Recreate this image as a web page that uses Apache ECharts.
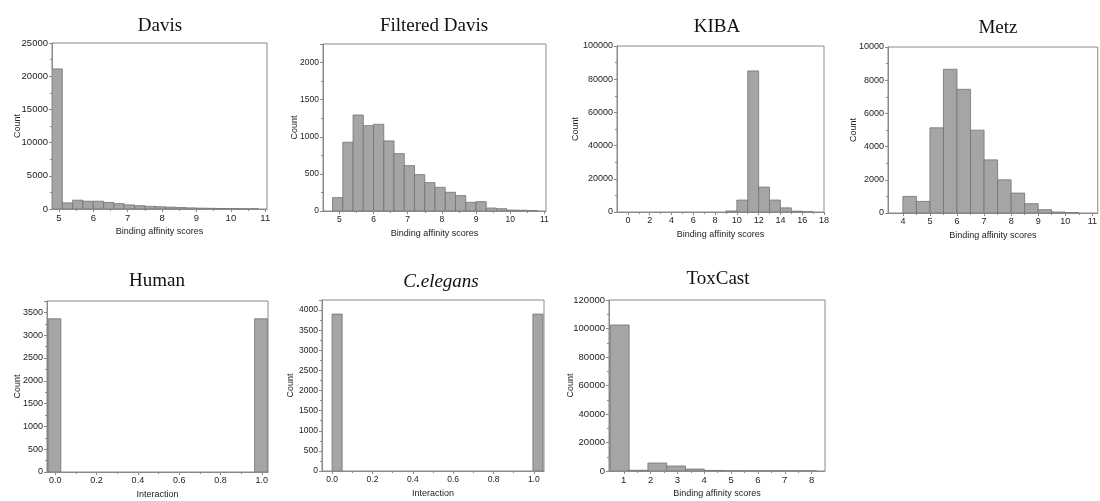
<!DOCTYPE html>
<html><head><meta charset="utf-8">
<script src="https://cdn.jsdelivr.net/npm/echarts@6/dist/echarts.min.js"></script>
<style>html,body{margin:0;padding:0;background:#fff}#c{width:1100px;height:501px}</style>
</head><body><div id="c"></div>
<script>
// ---------- DATA ----------
const titles = ['Davis', 'Filtered Davis', 'KIBA', 'Metz', 'Human', 'C.elegans', 'ToxCast'];
const xAxisNames = ['Binding affinity scores', 'Binding affinity scores', 'Binding affinity scores', 'Binding affinity scores', 'Interaction', 'Interaction', 'Binding affinity scores'];

// Davis
const davisBinStarts = [4.8, 5.1, 5.4, 5.7, 6.0, 6.3, 6.6, 6.9, 7.2, 7.5, 7.8, 8.1, 8.4, 8.7, 9.0, 9.3, 9.6, 9.9, 10.2, 10.5];
const davisCounts = [21100, 920, 1330, 1170, 1170, 980, 810, 620, 500, 400, 340, 280, 220, 170, 130, 100, 70, 50, 30, 20];
const davisBinWidth = 0.3;
const davisXTicks = [5, 6, 7, 8, 9, 10, 11];
const davisYTicks = [0, 5000, 10000, 15000, 20000, 25000];

// Filtered Davis
const fdavisBinStarts = [4.8, 5.1, 5.4, 5.7, 6.0, 6.3, 6.6, 6.9, 7.2, 7.5, 7.8, 8.1, 8.4, 8.7, 9.0, 9.3, 9.6, 9.9, 10.2, 10.5];
const fdavisCounts = [180, 926, 1294, 1150, 1168, 944, 773, 611, 490, 382, 319, 252, 207, 117, 126, 40, 31, 12, 10, 4];
const fdavisBinWidth = 0.3;
const fdavisXTicks = [5, 6, 7, 8, 9, 10, 11];
const fdavisYTicks = [0, 500, 1000, 1500, 2000];

// KIBA
const kibaBinStarts = [9, 10, 11, 12, 13, 14, 15, 16];
const kibaCounts = [600, 7200, 85000, 15000, 7200, 2500, 500, 100];
const kibaBinWidth = 1;
const kibaXTicks = [0, 2, 4, 6, 8, 10, 12, 14, 16, 18];
const kibaYTicks = [0, 20000, 40000, 60000, 80000, 100000];

// Metz
const metzBinStarts = [4.0, 4.5, 5.0, 5.5, 6.0, 6.5, 7.0, 7.5, 8.0, 8.5, 9.0, 9.5, 10.0];
const metzCounts = [1000, 700, 5130, 8660, 7450, 4990, 3200, 2000, 1200, 560, 200, 60, 20];
const metzBinWidth = 0.5;
const metzXTicks = [4, 5, 6, 7, 8, 9, 10, 11];
const metzYTicks = [0, 2000, 4000, 6000, 8000, 10000];

// Human
const humanBinStarts = [-0.035, 0.965];
const humanCounts = [3360, 3360];
const humanBinWidth = 0.062;
const humanXTicks = [0.0, 0.2, 0.4, 0.6, 0.8, 1.0];
const humanYTicks = [0, 500, 1000, 1500, 2000, 2500, 3000, 3500];

// C.elegans
const celegansBinStarts = [0.0, 0.995];
const celegansCounts = [3900, 3900];
const celegansBinWidth = 0.05;
const celegansXTicks = [0.0, 0.2, 0.4, 0.6, 0.8, 1.0];
const celegansYTicks = [0, 500, 1000, 1500, 2000, 2500, 3000, 3500, 4000];

// ToxCast
const toxBinStarts = [0.5, 1.2, 1.9, 2.6, 3.3, 4.0, 4.7, 5.4, 6.1, 6.8, 7.5];
const toxCounts = [102500, 500, 5600, 3500, 1400, 400, 100, 50, 30, 20, 10];
const toxBinWidth = 0.7;
const toxXTicks = [1, 2, 3, 4, 5, 6, 7, 8];
const toxYTicks = [0, 20000, 40000, 60000, 80000, 100000, 120000];

// ---------- LAYOUT ----------
const panels = [
  {starts: davisBinStarts, counts: davisCounts, w: davisBinWidth, xt: davisXTicks, yt: davisYTicks,
   grid: {left: 52, top: 43, width: 215, height: 166}, xMin: 4.8, xMax: 11.05, yMax: 25000, title: [160, 17], dec: 0, yGap: 30, fs: 9.5},
  {starts: fdavisBinStarts, counts: fdavisCounts, w: fdavisBinWidth, xt: fdavisXTicks, yt: fdavisYTicks,
   grid: {left: 323, top: 44, width: 223, height: 167}, xMin: 4.52, xMax: 11.05, yMax: 2250, title: [434, 17], dec: 0, yGap: 24, fs: 8.5},
  {starts: kibaBinStarts, counts: kibaCounts, w: kibaBinWidth, xt: kibaXTicks, yt: kibaYTicks,
   grid: {left: 617, top: 46, width: 207, height: 166}, xMin: -1, xMax: 18, yMax: 100000, title: [717, 18], dec: 0, yGap: 36.5, fs: 9},
  {starts: metzBinStarts, counts: metzCounts, w: metzBinWidth, xt: metzXTicks, yt: metzYTicks,
   grid: {left: 888, top: 47, width: 210, height: 166}, xMin: 3.45, xMax: 11.2, yMax: 10000, title: [998, 19], dec: 0, yGap: 29.5, fs: 9},
  {starts: humanBinStarts, counts: humanCounts, w: humanBinWidth, xt: humanXTicks, yt: humanYTicks,
   grid: {left: 47, top: 301, width: 221, height: 171}, xMin: -0.04, xMax: 1.03, yMax: 3750, title: [157, 272], dec: 1, yGap: 25, fs: 9},
  {starts: celegansBinStarts, counts: celegansCounts, w: celegansBinWidth, xt: celegansXTicks, yt: celegansYTicks,
   grid: {left: 322, top: 300, width: 222, height: 171}, xMin: -0.05, xMax: 1.05, yMax: 4250, title: [441, 272], dec: 1, italic: true, yGap: 27, fs: 8.5},
  {starts: toxBinStarts, counts: toxCounts, w: toxBinWidth, xt: toxXTicks, yt: toxYTicks,
   grid: {left: 609, top: 300, width: 216, height: 171}, xMin: 0.45, xMax: 8.5, yMax: 120000, title: [718, 270], dec: 0, yGap: 34, fs: 9.5}
];

const AXIS_COLOR = '#8a8a8a';
const LABEL_COLOR = '#222';
const SANS = '"Liberation Sans", Arial, sans-serif';

function midpoints(arr) {
  const out = [];
  for (let i = 0; i < arr.length - 1; i++) out.push((arr[i] + arr[i + 1]) / 2);
  return out;
}

function makeRender(width) {
  return function (params, api) {
    const x0 = api.value(0), y = api.value(1);
    const p0 = api.coord([x0, y]);
    const p1 = api.coord([x0 + width, 0]);
    const cs = params.coordSys;
    const rect = echarts.graphic.clipRectByRect(
      {x: p0[0], y: p0[1], width: p1[0] - p0[0], height: p1[1] - p0[1]},
      {x: cs.x, y: cs.y, width: cs.width, height: cs.height});
    if (!rect) return;
    return {type: 'rect', shape: rect, style: {fill: '#a5a5a5', stroke: '#727272', lineWidth: 0.8}};
  };
}

const option = {animation: false, backgroundColor: '#fff', title: [], grid: [], xAxis: [], yAxis: [], series: []};

panels.forEach((p, i) => {
  option.grid.push(Object.assign({show: true, borderColor: AXIS_COLOR, borderWidth: 1, containLabel: false}, p.grid));
  option.title.push({
    text: titles[i], left: p.title[0], top: p.title[1], textAlign: 'center', padding: 0,
    textStyle: {fontFamily: '"Liberation Serif", "Times New Roman", serif', fontSize: 19, fontWeight: 'normal',
      fontStyle: p.italic ? 'italic' : 'normal', color: '#111'}
  });
  const dec = p.dec;
  option.xAxis.push({
    type: 'value', gridIndex: i, min: p.xMin, max: p.xMax, position: 'bottom',
    name: xAxisNames[i], nameLocation: 'middle', nameGap: 18, nameMoveOverlap: false,
    nameTextStyle: {fontFamily: SANS, fontSize: 9, color: LABEL_COLOR},
    axisLine: {show: true, onZero: false, lineStyle: {color: AXIS_COLOR, width: 1}},
    axisTick: {show: true, customValues: p.xt, length: 3, lineStyle: {color: AXIS_COLOR}},
    axisLabel: {show: true, customValues: p.xt, margin: 4, fontFamily: SANS, fontSize: p.fs, color: LABEL_COLOR,
      formatter: v => Number(v).toFixed(dec)},
    splitLine: {show: false}
  });
  option.xAxis.push({
    type: 'value', gridIndex: i, min: p.xMin, max: p.xMax, position: 'bottom',
    axisLine: {show: false, onZero: false},
    axisTick: {show: true, customValues: midpoints(p.xt), length: 2, lineStyle: {color: AXIS_COLOR}},
    axisLabel: {show: false},
    splitLine: {show: false}
  });
  option.yAxis.push({
    type: 'value', gridIndex: i, min: 0, max: p.yMax, interval: p.yt[1] - p.yt[0], position: 'left',
    name: 'Count', nameLocation: 'middle', nameGap: p.yGap, nameMoveOverlap: false,
    nameTextStyle: {fontFamily: SANS, fontSize: 9, color: LABEL_COLOR},
    axisLine: {show: true, onZero: false, lineStyle: {color: AXIS_COLOR, width: 1}},
    axisTick: {show: true, length: 3, lineStyle: {color: AXIS_COLOR}},
    minorTick: {show: true, splitNumber: 2, length: 2, lineStyle: {color: AXIS_COLOR}},
    axisLabel: {show: true, margin: 4, fontFamily: SANS, fontSize: p.fs, color: LABEL_COLOR,
      customValues: p.yt, formatter: v => String(Math.round(v))},
    splitLine: {show: false}, minorSplitLine: {show: false}
  });
  option.series.push({
    type: 'custom', xAxisIndex: i * 2, yAxisIndex: i, renderItem: makeRender(p.w),
    data: p.starts.map((s, k) => [s, p.counts[k]]), clip: true, silent: true
  });
});

const chart = echarts.init(document.getElementById('c'), null, {renderer: 'canvas'});
chart.setOption(option);
</script>
</body></html>
